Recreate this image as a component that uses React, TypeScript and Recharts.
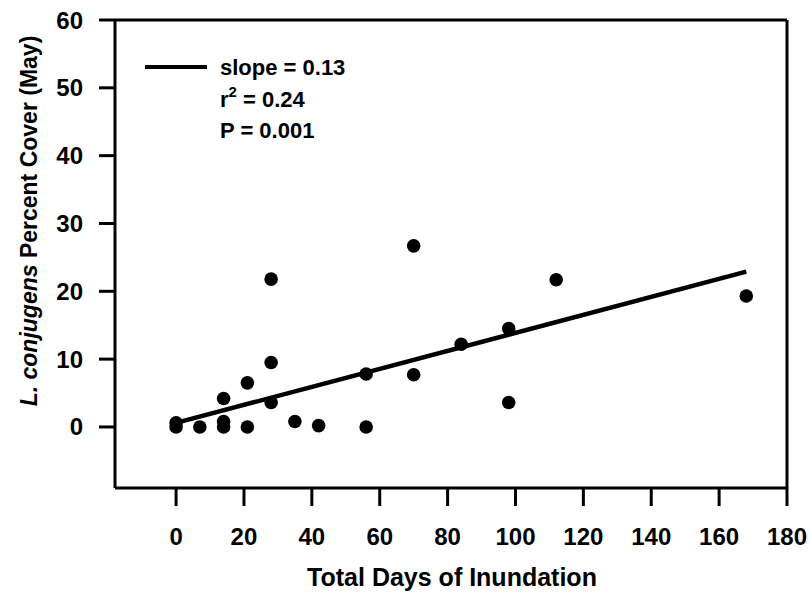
import React from 'react';
import { ScatterChart, Scatter, XAxis, YAxis, ReferenceLine, Customized } from 'recharts';

const daysX = [0, 0, 7, 14, 14, 14, 21, 21, 28, 28, 28, 35, 42, 56, 56, 70, 70, 84, 98, 98, 112, 168];
const cover = [0, 0.6, 0, 0, 0.8, 4.2, 0, 6.5, 3.6, 9.5, 21.8, 0.8, 0.2, 0, 7.8, 26.7, 7.7, 12.2, 14.5, 3.6, 21.7, 19.3];
const fitX = [0, 168];
const fitY = [0.6, 22.9];
const xTicks = [0, 20, 40, 60, 80, 100, 120, 140, 160, 180];
const yTicks = [0, 10, 20, 30, 40, 50, 60];
const legendLines = ['slope = 0.13', 'P = 0.001'];

const points = daysX.map((x, i) => ({ x, y: cover[i] }));
const fit = fitX.map((x, i) => ({ x, y: fitY[i] }));

const FONT = '"Liberation Sans", Arial, Helvetica, sans-serif';

const Dot = (props: any) => <circle cx={props.cx} cy={props.cy} r={6.8} fill="#000" />;

const Overlay = () => (
  <g fontFamily={FONT} fontWeight="bold" fill="#000">
    <line x1={145} y1={67} x2={207} y2={67} stroke="#000" strokeWidth={4} />
    <text x={220} y={75} fontSize={22}>{legendLines[0]}</text>
    <text x={220} y={107} fontSize={22}>
      r<tspan fontSize={15} dy={-10}>2</tspan><tspan dy={10}> = 0.24</tspan>
    </text>
    <text x={220} y={138} fontSize={22}>{legendLines[1]}</text>
    <text x={452} y={586} fontSize={25} textAnchor="middle">Total Days of Inundation</text>
    <text x={37} y={221} fontSize={23} textAnchor="middle" transform="rotate(-90, 37, 221)">
      <tspan fontStyle="italic">L. conjugens</tspan> Percent Cover (May)
    </text>
  </g>
);

export default function App() {
  const tickStyle = { fill: '#000', fontFamily: FONT, fontWeight: 'bold', fontSize: 24 } as any;
  return (
    <div style={{ position: 'absolute', left: 0, top: 0, background: '#fff' }}>
      <ScatterChart width={810} height={594} margin={{ top: 20, right: 23, bottom: 0, left: 0 }}>
        <XAxis
          type="number"
          dataKey="x"
          domain={[-18, 180]}
          ticks={xTicks}
          allowDataOverflow
          height={106}
          tickSize={18}
          tickMargin={22}
          axisLine={{ stroke: '#000', strokeWidth: 3 }}
          tickLine={{ stroke: '#000', strokeWidth: 3 }}
          tick={tickStyle}
        />
        <YAxis
          type="number"
          dataKey="y"
          domain={[-9, 60]}
          ticks={yTicks}
          allowDataOverflow
          width={115}
          tickSize={16}
          tickMargin={16}
          axisLine={{ stroke: '#000', strokeWidth: 3 }}
          tickLine={{ stroke: '#000', strokeWidth: 3 }}
          tick={tickStyle}
        />
        <ReferenceLine y={60} stroke="#000" strokeWidth={3} />
        <ReferenceLine x={180} stroke="#000" strokeWidth={3} />
        <Scatter data={fit} line={{ stroke: '#000', strokeWidth: 4.5 }} shape={() => null} isAnimationActive={false} />
        <Scatter data={points} shape={Dot} isAnimationActive={false} />
        <Customized component={<Overlay />} />
      </ScatterChart>
    </div>
  );
}
